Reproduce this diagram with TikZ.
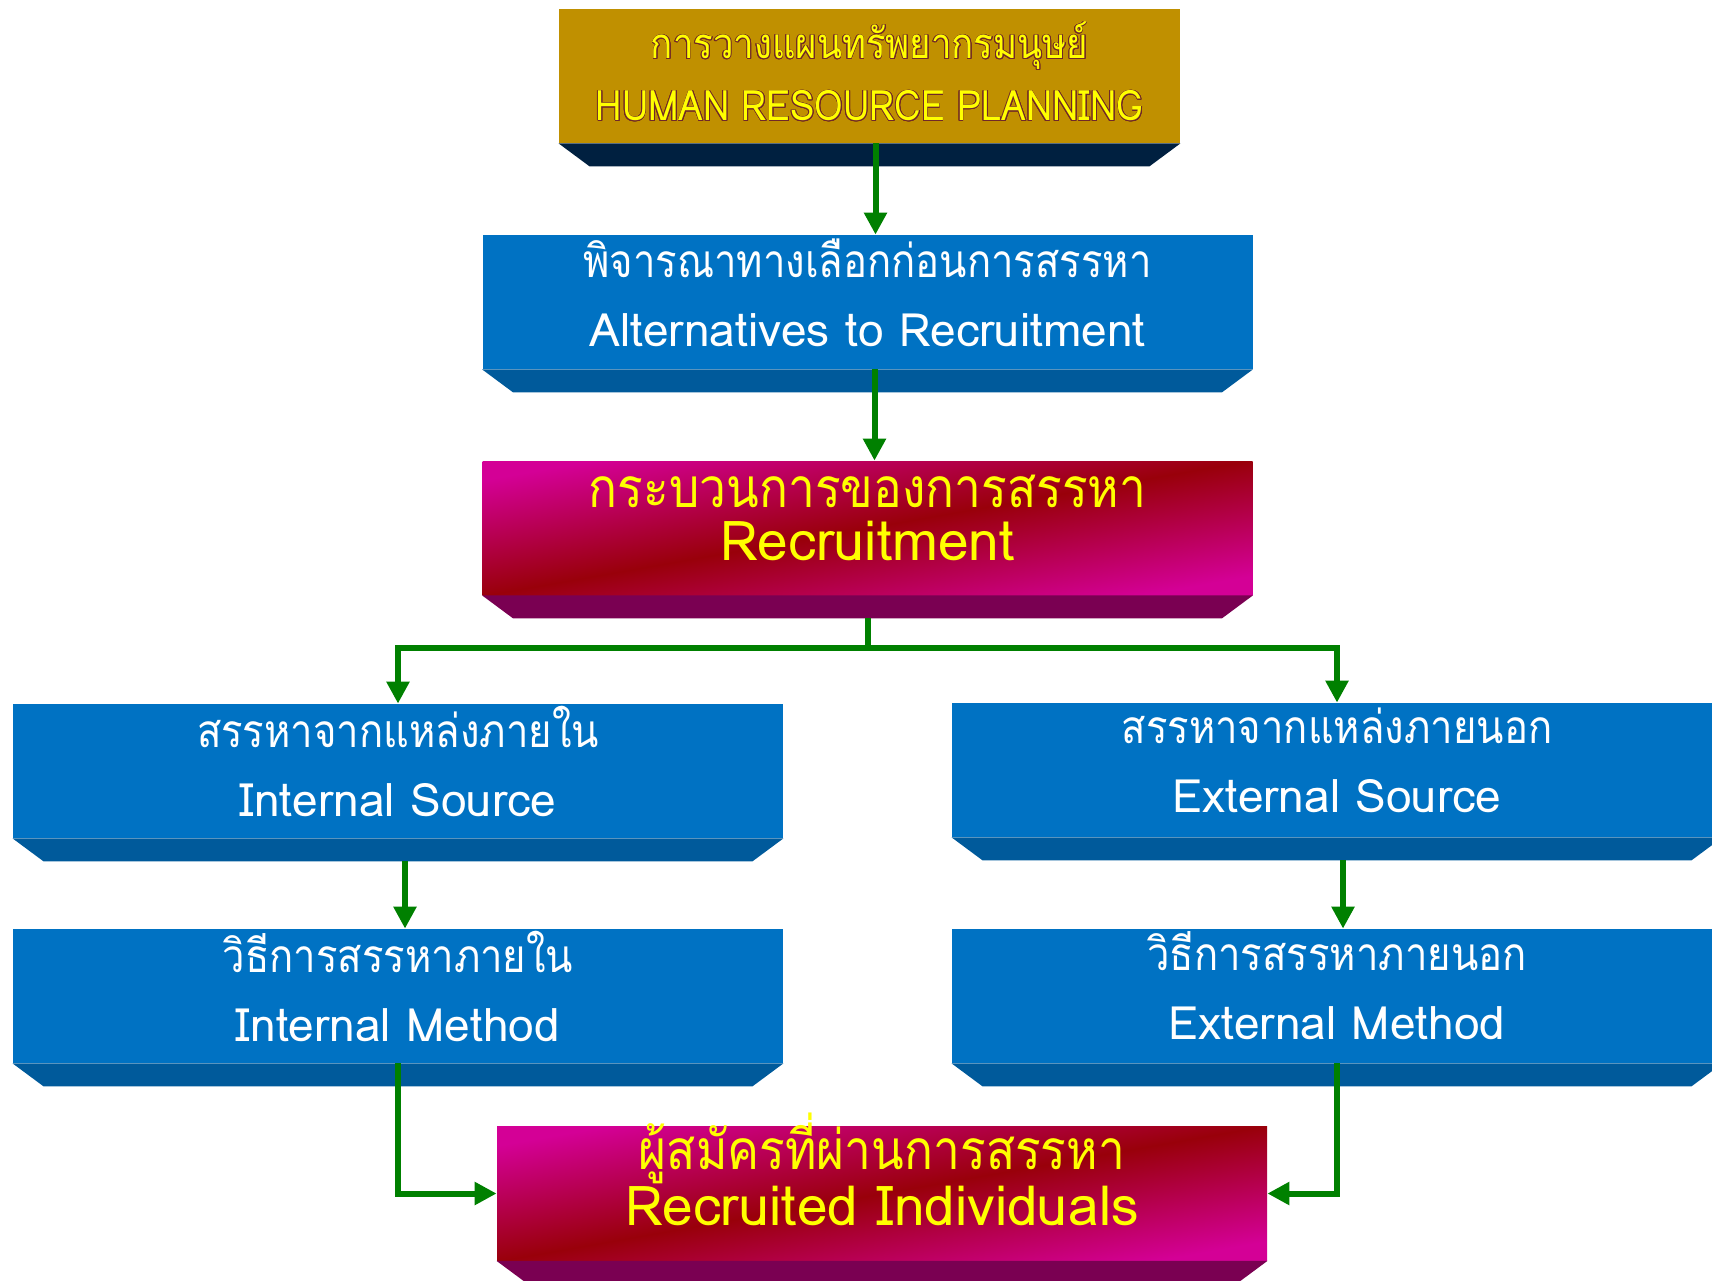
\documentclass[tikz,border=0pt]{standalone}
\usepackage{fontspec}
\usepackage[copies]{contour}
\newfontfamily\thaifont[Script=Thai,FakeStretch=0.87]{Loma}
\newfontfamily\latinfont{Loma}
\usetikzlibrary{arrows.meta}
\contourlength{0.4pt}

\begin{document}
\begin{tikzpicture}[x=0.5pt,y=-0.5pt]
    % set up palette
    \definecolor{hrpGold}{RGB}{192,144,0}
    \definecolor{hrpNavy}{RGB}{0,32,64}
    \definecolor{hrpEdge}{RGB}{112,40,40}
    \definecolor{boxBlue}{RGB}{0,114,195}
    \definecolor{boxBlueDark}{RGB}{0,90,155}
    \definecolor{recMagenta}{RGB}{212,0,150}
    \definecolor{recRed}{RGB}{153,0,10}
    \definecolor{recPurple}{RGB}{122,0,82}
    \definecolor{flowGreen}{RGB}{0,128,0}
    \definecolor{txtYellow}{RGB}{255,255,0}
    \tikzstyle{every node}=[align=center, inner sep=0pt]
    \tikzstyle{face}=[minimum width=385pt, minimum height=67pt]
    \tikzstyle{blueface}=[face, fill=boxBlue]
    \tikzstyle{recface}=[face, top color=recMagenta, bottom color=recMagenta, middle color=recRed, shading angle=10]
    \tikzstyle{bluetext}=[text=white, font=\fontsize{23pt}{34.5pt}\selectfont]
    \tikzstyle{rectext}=[text=txtYellow, font=\fontsize{27.5pt}{26.5pt}\selectfont]
    \tikzstyle{flow}=[draw=flowGreen, line width=3pt, -{Triangle[width=11pt,length=11pt]}]

    \useasboundingbox (0,0) rectangle (1712,1280);

    % draw the boxes
    \node[face, minimum width=310.5pt, fill=hrpGold] (hrp) at (869.5,76) {};
    \node[blueface] (alt) at (867.5,302) {};
    \node[recface] (rec) at (867.5,528) {};
    \node[blueface] (insrc) at (398,771) {};
    \node[blueface] (exsrc) at (1337,770) {};
    \node[blueface] (inmeth) at (398,996) {};
    \node[blueface] (exmeth) at (1337,996) {};
    \node[recface] (ind) at (882,1193.5) {};

    % label the boxes
    \node[text=txtYellow, font=\thaifont\fontsize{21pt}{31pt}\selectfont] (hrpText) at ([yshift=2pt]hrp.center)
      {\contour{hrpEdge}{การวางแผนทรัพยากรมนุษย์}\\\contour{hrpEdge}{HUMAN RESOURCE PLANNING}};
    \node[bluetext] (altText) at ([yshift=4.5pt]alt.center) {\thaifont พิจารณาทางเลือกก่อนการสรรหา\\\latinfont Alternatives to Recruitment};
    \node[rectext] (recText) at ([yshift=5pt]rec.center) {\thaifont กระบวนการของการสรรหา\\\latinfont Recruitment};
    \node[bluetext] (insrcText) at ([yshift=5pt]insrc.center) {\thaifont สรรหาจากแหล่งภายใน\\\latinfont Internal Source};
    \node[bluetext] (exsrcText) at ([yshift=5pt]exsrc.center) {\thaifont สรรหาจากแหล่งภายนอก\\\latinfont External Source};
    \node[bluetext] (inmethText) at ([yshift=5pt]inmeth.center) {\thaifont วิธีการสรรหาภายใน\\\latinfont Internal Method};
    \node[bluetext] (exmethText) at ([yshift=5pt]exmeth.center) {\thaifont วิธีการสรรหาภายนอก\\\latinfont External Method};
    \node[rectext] (indText) at ([yshift=12pt]ind.center) {\thaifont ผู้สมัครที่ผ่านการสรรหา\\\latinfont Recruited Individuals};

    % draw the bevels under the boxes
    \foreach \n/\c in {hrp/hrpNavy, alt/boxBlueDark, rec/recPurple, insrc/boxBlueDark,
                       exsrc/boxBlueDark, inmeth/boxBlueDark, exmeth/boxBlueDark, ind/recPurple}{
      \fill[\c] (\n.south west) -- (\n.south east) -- ([xshift=-15.5pt,yshift=-11.5pt]\n.south east)
        -- ([xshift=15.5pt,yshift=-11.5pt]\n.south west) -- cycle;
    }

    % draw the connectors
    \coordinate (split) at ([yshift=-26.5pt]rec.south);
    \draw[flow] ([xshift=3pt]hrp.south) -- ([xshift=3pt]hrp.south |- alt.north);
    \draw[flow] ([xshift=3.5pt]alt.south) -- ([xshift=3.5pt]alt.south |- rec.north);
    \draw[draw=flowGreen, line width=3pt] ([yshift=-11.5pt]rec.south) -- (split);
    \draw[flow] (split) -| (insrc.north);
    \draw[flow] (split) -| (exsrc.north);
    \draw[flow] ([xshift=3.5pt,yshift=-11.5pt]insrc.south) -- ([xshift=3.5pt]inmeth.north);
    \draw[flow] ([xshift=3pt,yshift=-11.5pt]exsrc.south) -- ([xshift=3pt]exmeth.north);
    \draw[flow] (inmeth.south) |- (ind.west);
    \draw[flow] (exmeth.south) |- (ind.east);

\end{tikzpicture}
\end{document}
